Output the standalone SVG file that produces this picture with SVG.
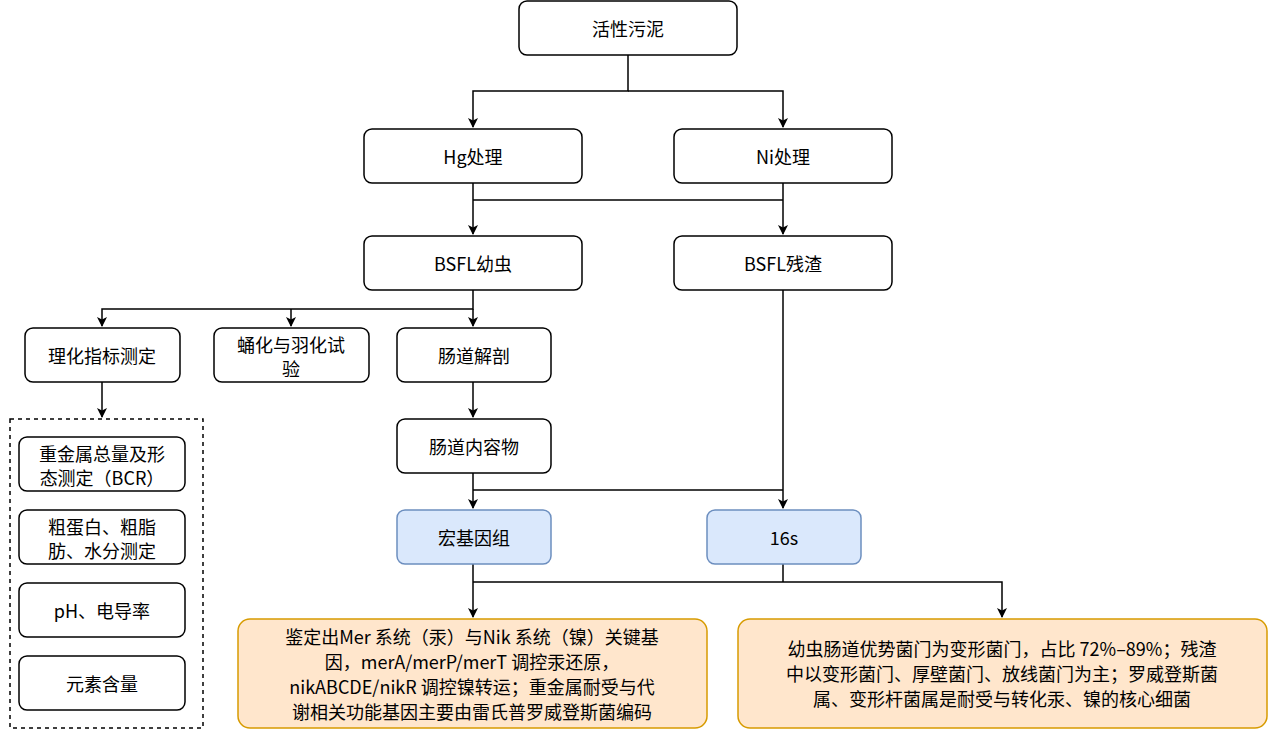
<svg xmlns="http://www.w3.org/2000/svg" width="1268" height="730" viewBox="0 0 1268 730">
<style>
.n{fill:#fff;stroke:#000;stroke-width:1.5}
.b{fill:#dae8fc;stroke:#6c8ebf;stroke-width:1.5}
.o{fill:#ffe6cc;stroke:#d79b00;stroke-width:1.5}
text{font-family:"Noto Sans CJK SC","Noto Sans",sans-serif;font-size:18px;text-anchor:middle;dominant-baseline:central;fill:#000}
.s{font-size:17px}
.c{fill:none;stroke:#000;stroke-width:1.5}
</style>
<defs><marker id="a" markerWidth="10" markerHeight="10" refX="9" refY="5" orient="auto" markerUnits="userSpaceOnUse"><path d="M0,0L10,5L0,10L2.5,5Z" fill="#000"/></marker></defs>
<g id="connectors">
<path class="c" d="M628,55V91H473V127" marker-end="url(#a)"/>
<path class="c" d="M628,91H783V127" marker-end="url(#a)"/>
<path class="c" d="M473,183V234" marker-end="url(#a)"/>
<path class="c" d="M783,183V234" marker-end="url(#a)"/>
<path class="c" d="M473,200H783"/>
<path class="c" d="M473,290V309H102V326" marker-end="url(#a)"/>
<path class="c" d="M291,309V326" marker-end="url(#a)"/>
<path class="c" d="M473,309V326" marker-end="url(#a)"/>
<path class="c" d="M102,382V417" marker-end="url(#a)"/>
<path class="c" d="M473,382V417" marker-end="url(#a)"/>
<path class="c" d="M473,473V508" marker-end="url(#a)"/>
<path class="c" d="M473,490H783"/>
<path class="c" d="M783,290V508" marker-end="url(#a)"/>
<path class="c" d="M473,564V617" marker-end="url(#a)"/>
<path class="c" d="M473,582H1002V617" marker-end="url(#a)"/>
<path class="c" d="M783,564V582"/>
</g>
<g id="n1"><rect class="n" x="519" y="1" width="218" height="54" rx="8"/><text x="628" y="28">活性污泥</text></g>
<g id="n2"><rect class="n" x="364" y="129" width="218" height="54" rx="8"/><text x="473" y="156">Hg处理</text></g>
<g id="n3"><rect class="n" x="674" y="129" width="218" height="54" rx="8"/><text x="783" y="156">Ni处理</text></g>
<g id="n4"><rect class="n" x="364" y="236" width="218" height="54" rx="8"/><text x="473" y="263">BSFL幼虫</text></g>
<g id="n5"><rect class="n" x="674" y="236" width="218" height="54" rx="8"/><text x="783" y="263">BSFL残渣</text></g>
<g id="n6"><rect class="n" x="25" y="328" width="155" height="54" rx="8"/><text x="102" y="355">理化指标测定</text></g>
<g id="n7"><rect class="n" x="214" y="328" width="155" height="54" rx="8"/><text x="291" y="344">蛹化与羽化试</text><text x="291" y="368">验</text></g>
<g id="n8"><rect class="n" x="397" y="328" width="154" height="54" rx="8"/><text x="474" y="355">肠道解剖</text></g>
<g id="n9"><rect class="n" x="397" y="419" width="154" height="54" rx="8"/><text x="474" y="446">肠道内容物</text></g>
<g id="n10"><rect class="b" x="397" y="510" width="154" height="54" rx="8"/><text x="474" y="537">宏基因组</text></g>
<g id="n11"><rect class="b" x="707" y="510" width="154" height="54" rx="8"/><text x="784" y="537">16s</text></g>
<g id="group"><rect x="10" y="419" width="193" height="309" fill="#fff" stroke="#000" stroke-width="1.5" stroke-dasharray="4 4"/></g>
<g id="n12"><rect class="n" x="19" y="437" width="166" height="54" rx="8"/><text x="102" y="453">重金属总量及形</text><text x="102" y="477">态测定（BCR）</text></g>
<g id="n13"><rect class="n" x="19" y="510" width="166" height="54" rx="8"/><text x="102" y="526">粗蛋白、粗脂</text><text x="102" y="550">肪、水分测定</text></g>
<g id="n14"><rect class="n" x="19" y="583" width="166" height="54" rx="8"/><text x="102" y="610">pH、电导率</text></g>
<g id="n15"><rect class="n" x="19" y="656" width="166" height="54" rx="8"/><text x="102" y="683">元素含量</text></g>
<g id="n16"><rect class="o" x="238" y="619" width="469" height="109" rx="12"/>
<text x="472" y="636">鉴定出Mer 系统（汞）与Nik 系统（镍）关键基</text>
<text x="472" y="661">因，merA/merP/merT 调控汞还原，</text>
<text x="472" y="686">nikABCDE/nikR 调控镍转运；重金属耐受与代</text>
<text x="472" y="711">谢相关功能基因主要由雷氏普罗威登斯菌编码</text></g>
<g id="n17"><rect class="o" x="738" y="619" width="529" height="109" rx="12"/>
<text x="1002" y="648">幼虫肠道优势菌门为变形菌门，占比 72%–89%；残渣</text>
<text x="1002" y="673">中以变形菌门、厚壁菌门、放线菌门为主；罗威登斯菌</text>
<text x="1002" y="698">属、变形杆菌属是耐受与转化汞、镍的核心细菌</text></g>
</svg>
